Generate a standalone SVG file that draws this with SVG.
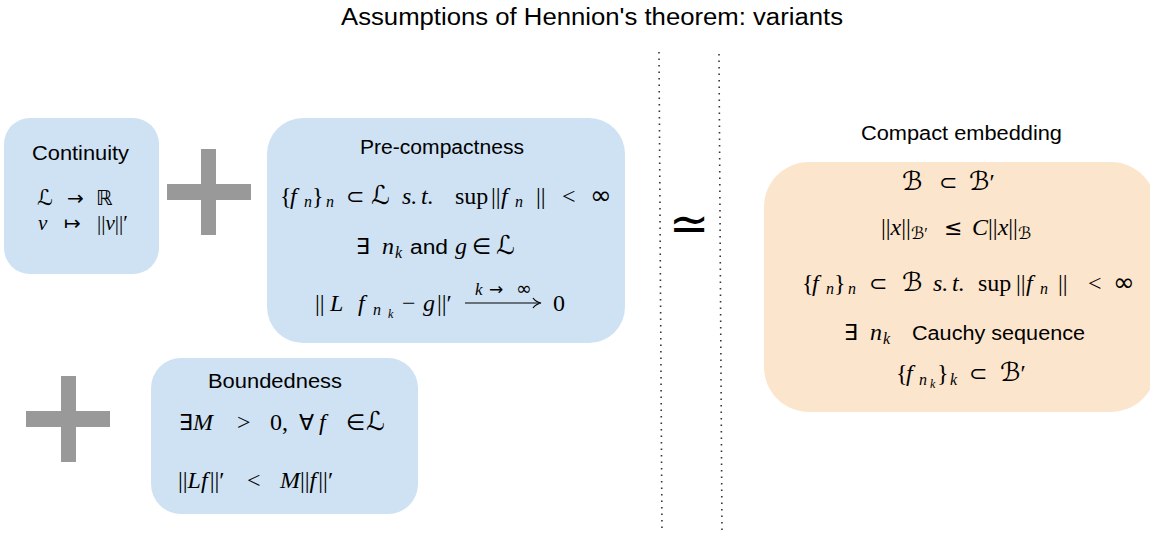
<svg xmlns="http://www.w3.org/2000/svg" width="1150" height="534" viewBox="0 0 1150 534">
  <style>
    .sans { font-family: "Liberation Sans", Arial, sans-serif; font-size: 20px; fill: #000; }
    .m { font-family: "Liberation Serif", "DejaVu Serif", serif; font-size: 24px; fill: #000; }
    .i { font-style: italic; }
    .sub { font-size: 16px; }
    .ss { font-size: 12px; }
    .cal { font-family: "DejaVu Serif", "DejaVu Sans", serif; font-style: normal; font-size: 26px; }
    .calsub { font-family: "DejaVu Serif", "DejaVu Sans", serif; font-style: normal; font-size: 17px; }
    .sym { font-family: "DejaVu Sans", sans-serif; font-style: normal; font-size: 22px; }
    .inf { font-family: "DejaVu Sans", sans-serif; font-size: 26px; }
    .blue { fill: #cfe2f3; }
    .orange { fill: #fce5cd; }
    .plus { fill: #999999; }
    .dots { stroke: #333; stroke-width: 1.6; stroke-dasharray: 1.6 4.9; fill: none; }
  </style>

  <text class="sans" x="341" y="25" textLength="502" lengthAdjust="spacingAndGlyphs" style="font-size:23.5px">Assumptions of Hennion's theorem: variants</text>

  <g id="connectors">
    <line class="dots" x1="659" y1="52" x2="662" y2="533"/>
    <line class="dots" x1="719" y1="54" x2="722" y2="533"/>
  </g>

  <g id="continuity">
    <rect class="blue" x="4" y="118" width="155" height="156" rx="26" ry="26"/>
    <text class="sans" x="32" y="160" textLength="97" lengthAdjust="spacingAndGlyphs">Continuity</text>
    <text class="m" y="205" style="font-size:21px"><tspan class="cal" x="37" style="font-size:22px">ℒ</tspan><tspan class="sym" x="67" style="font-size:20px">→</tspan><tspan class="sym" x="96" style="font-size:21px">ℝ</tspan></text>
    <text class="m" y="230" style="font-size:21px"><tspan class="i" x="38">v</tspan><tspan class="sym" x="64" style="font-size:20px">↦</tspan><tspan x="97">||</tspan><tspan class="i">v</tspan><tspan>||′</tspan></text>
  </g>

  <g id="plus1">
    <rect class="plus" x="201" y="149" width="15" height="86"/>
    <rect class="plus" x="167" y="184" width="84" height="16"/>
  </g>

  <g id="precompactness">
    <rect class="blue" x="267" y="118" width="358" height="225" rx="36" ry="36"/>
    <text class="sans" x="360" y="154" textLength="164" lengthAdjust="spacingAndGlyphs">Pre-compactness</text>
    <text class="m" y="204"><tspan x="280">{</tspan><tspan class="i" x="290">f</tspan><tspan class="i sub" x="304" dy="3">n</tspan><tspan x="312" dy="-3">}</tspan><tspan class="i sub" x="326" dy="3">n</tspan><tspan class="sym" x="346" dy="-3">⊂</tspan><tspan class="cal" x="371">ℒ</tspan><tspan class="i" x="402">s.</tspan><tspan class="i" x="421">t.</tspan><tspan x="455">sup</tspan><tspan x="491">||</tspan><tspan class="i" x="501">f</tspan><tspan class="i sub" x="515" dy="3">n</tspan><tspan x="536" dy="-3">||</tspan><tspan x="562">&lt;</tspan><tspan class="inf" x="590">∞</tspan></text>
    <text class="m" y="254"><tspan class="sym" x="356">∃</tspan><tspan class="i" x="382">n</tspan><tspan class="i sub" x="395" dy="4">k</tspan><tspan class="sans" x="410" dy="-4" textLength="38" lengthAdjust="spacingAndGlyphs">and</tspan><tspan class="i" x="455">g</tspan><tspan class="sym" x="472">∈</tspan><tspan class="cal" x="496">ℒ</tspan></text>
    <text class="m" y="311"><tspan x="315">||</tspan><tspan class="i" x="330">L</tspan><tspan class="i" x="358">f</tspan><tspan class="i sub" x="373" dy="4">n</tspan><tspan class="i ss" x="388" dy="3">k</tspan><tspan x="402" dy="-7">−</tspan><tspan class="i" x="423">g</tspan><tspan x="437">||′</tspan><tspan x="553">0</tspan></text>
    <text class="m" y="295" style="font-size:17px"><tspan class="i" x="475">k</tspan><tspan class="sym" x="489" style="font-size:17px">→</tspan><tspan class="sym" x="516" style="font-size:19px">∞</tspan></text>
    <line x1="465" y1="303" x2="539" y2="303" stroke="#000" stroke-width="1.2"/>
    <path d="M533 298 Q536 302 541 303 Q536 304 533 308" fill="none" stroke="#000" stroke-width="1.2"/>
  </g>

  <g id="plus2">
    <rect class="plus" x="61" y="376" width="15" height="86"/>
    <rect class="plus" x="26" y="411" width="84" height="16"/>
  </g>

  <g id="boundedness">
    <rect class="blue" x="151" y="358" width="267" height="156" rx="30" ry="30"/>
    <text class="sans" x="208" y="388" textLength="134" lengthAdjust="spacingAndGlyphs">Boundedness</text>
    <text class="m" y="430"><tspan class="sym" x="179">∃</tspan><tspan class="i" x="193">M</tspan><tspan x="237">&gt;</tspan><tspan x="270">0,</tspan><tspan class="sym" x="299">∀</tspan><tspan class="i" x="319">f</tspan><tspan class="sym" x="346">∈</tspan><tspan class="cal" x="366">ℒ</tspan></text>
    <text class="m" y="488"><tspan x="178">||</tspan><tspan class="i">Lf</tspan><tspan dx="2">||′</tspan><tspan x="247">&lt;</tspan><tspan class="i" x="280">M</tspan><tspan>||</tspan><tspan class="i">f</tspan><tspan dx="2">||′</tspan></text>
  </g>

  <g id="equiv">
    <text x="689" y="240" text-anchor="middle" style="font-family:'DejaVu Sans',sans-serif;font-size:48px">≃</text>
  </g>

  <g id="compact">
    <text class="sans" x="861" y="140" textLength="201" lengthAdjust="spacingAndGlyphs">Compact embedding</text>
    <rect class="orange" x="764" y="162" width="392" height="250" rx="45" ry="45"/>
    <text class="m" y="190"><tspan class="cal" x="902">ℬ</tspan><tspan class="sym" x="939">⊂</tspan><tspan class="cal" x="969">ℬ</tspan><tspan>′</tspan></text>
    <text class="m" y="235"><tspan x="881">||</tspan><tspan class="i">x</tspan><tspan>||</tspan><tspan class="calsub" dy="4">ℬ</tspan><tspan class="sub">′</tspan><tspan class="sym" x="944" dy="-4">≤</tspan><tspan class="i" x="972">C</tspan><tspan>||</tspan><tspan class="i">x</tspan><tspan>||</tspan><tspan class="calsub" dy="4">ℬ</tspan></text>
    <text class="m" y="291"><tspan x="802">{</tspan><tspan class="i" x="812">f</tspan><tspan class="i sub" x="826" dy="3">n</tspan><tspan x="834" dy="-3">}</tspan><tspan class="i sub" x="848" dy="3">n</tspan><tspan class="sym" x="869" dy="-3">⊂</tspan><tspan class="cal" x="902">ℬ</tspan><tspan class="i" x="933">s.</tspan><tspan class="i" x="952">t.</tspan><tspan x="978">sup</tspan><tspan x="1016">||</tspan><tspan class="i" x="1026">f</tspan><tspan class="i sub" x="1040" dy="3">n</tspan><tspan x="1058" dy="-3">||</tspan><tspan x="1088">&lt;</tspan><tspan class="inf" x="1113">∞</tspan></text>
    <text class="m" y="340"><tspan class="sym" x="844">∃</tspan><tspan class="i" x="870">n</tspan><tspan class="i sub" x="883" dy="4">k</tspan><tspan class="sans" x="912" dy="-4" textLength="173" lengthAdjust="spacingAndGlyphs">Cauchy sequence</tspan></text>
    <text class="m" y="381"><tspan x="896">{</tspan><tspan class="i" x="906">f</tspan><tspan class="i sub" x="919" dy="4">n</tspan><tspan class="i ss" x="930" dy="3">k</tspan><tspan x="937" dy="-7">}</tspan><tspan class="i sub" x="950" dy="4">k</tspan><tspan class="sym" x="969" dy="-4">⊂</tspan><tspan class="cal" x="1000">ℬ</tspan><tspan>′</tspan></text>
  </g>
</svg>
